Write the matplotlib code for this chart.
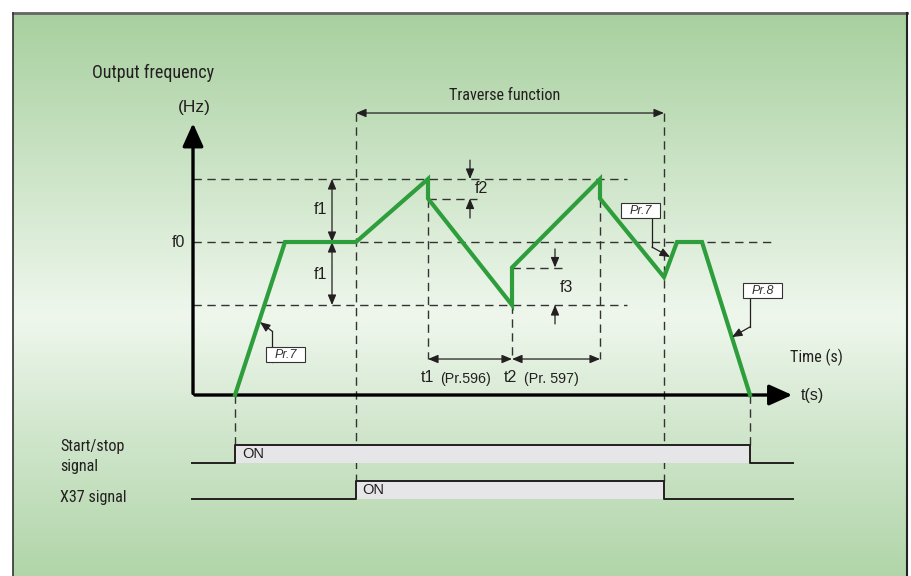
import numpy as np
import matplotlib.pyplot as plt
from matplotlib.colors import LinearSegmentedColormap
from matplotlib.patches import Rectangle

# time axis in s (schematic), frequency in Hz (schematic)
f0 = 51.0
f1 = 21.0
f2 = 6.5
f3 = 12.5
f_dip = 39.3

t_start = 4.2      # start signal on
t_acc_end = 9.2
t_trav_on = 16.3   # X37 on
t_1 = 23.5
t_2 = 31.9
t_3 = 40.7
t_trav_off = 47.1  # X37 off
t_back = 48.4
t_dec = 50.9
t_stop = 55.7
t_axis_end = 60.2

curve_t = [t_start, t_acc_end, t_trav_on, t_1, t_1, t_2, t_2, t_3, t_3,
           t_trav_off, t_back, t_dec, t_stop]
curve_f = [0, f0, f0, f0 + f1, f0 + f1 - f2, f0 - f1, f0 - f1 + f3, f0 + f1,
           f0 + f1 - f2, f_dip, f0, f0, 0]

# signal rows (levels below the frequency axis)
ss_low, ss_high = -22.7, -16.7
x37_low, x37_high = -34.7, -28.7
sig_left, sig_right = -0.1, 60.0

GREEN = '#2e9e3c'
DARK = '#231f20'
NARROW = ['Liberation Sans Narrow', 'Roboto Condensed', 'DejaVu Sans']
ARIAL = ['Liberation Sans', 'DejaVu Sans']

fig = plt.figure(figsize=(9.12, 5.76), dpi=100)
ax = fig.add_axes([0, 0, 1, 1])
ax.set_xlim(-19.3, 71.9)
ax.set_ylim(-60.33, 131.67)
ax.axis('off')

# background panel with vertical gradient
cmap = LinearSegmentedColormap.from_list(
    'bg', [(0, '#b1d5a9'), (0.28, '#d4e8d0'), (0.46, '#eff7ed'), (1.0, '#a8d09f')])
grad = np.linspace(0, 1, 256).reshape(-1, 1)
ax.imshow(grad, cmap=cmap, aspect='auto', origin='lower',
          extent=[-18.0, 71.4, -60.33, 127.33], zorder=0)
ax.plot([-18.0, 71.4], [127.33, 127.33], color='#666666', lw=2, zorder=1)
ax.plot([-18.0, -18.0], [127.33, -60.33], color='#333333', lw=1.2, zorder=1)
ax.plot([71.4, 71.4], [127.33, -60.33], color='#222222', lw=1.5, zorder=1)

dash = dict(color='#333333', lw=1.0, ls=(0, (6, 4)), zorder=2)

# horizontal dashed guides
ax.plot([0, 43.4], [f0 + f1] * 2, **dash)
ax.plot([0, 58.0], [f0] * 2, **dash)
ax.plot([0, 43.4], [f0 - f1] * 2, **dash)
ax.plot([t_1, 28.4], [f0 + f1 - f2] * 2, **dash)
ax.plot([t_2, 37.0], [f0 - f1 + f3] * 2, **dash)

# vertical dashed guides
ax.plot([t_start] * 2, [0, ss_high], **dash)
ax.plot([t_stop] * 2, [0, ss_high], **dash)
ax.plot([t_trav_on] * 2, [94, x37_high], **dash)
ax.plot([t_trav_off] * 2, [94, x37_high], **dash)
for t in (t_1, t_2, t_3):
    lo = f0 - f1 if t == t_2 else f0 + f1 - f2
    ax.plot([t] * 2, [lo, 12.0], **dash)

# axes arrows
head = dict(arrowstyle='-|>,head_length=1.0,head_width=0.45',
            color='black', lw=2.4, mutation_scale=14)
ax.annotate('', xy=(0, 91.5), xytext=(0, -0.4), arrowprops=head, zorder=4)
ax.annotate('', xy=(t_axis_end, 0), xytext=(-0.1, 0), arrowprops=head, zorder=4)

# the frequency curve
ax.plot(curve_t, curve_f, color=GREEN, lw=3.0, solid_joinstyle='miter', zorder=5)

# dimension arrows
dim = dict(arrowstyle='<|-|>,head_length=0.6,head_width=0.25', color=DARK,
           lw=0.9, mutation_scale=10, shrinkA=0, shrinkB=0)
one = dict(arrowstyle='-|>,head_length=0.6,head_width=0.25', color=DARK,
           lw=0.9, mutation_scale=10, shrinkA=0, shrinkB=0)
ax.annotate('', xy=(13.9, f0 + f1), xytext=(13.9, f0), arrowprops=dim, zorder=3)
ax.annotate('', xy=(13.9, f0), xytext=(13.9, f0 - f1), arrowprops=dim, zorder=3)
ax.annotate('', xy=(27.7, f0 + f1), xytext=(27.7, 78.3), arrowprops=one, zorder=3)
ax.annotate('', xy=(27.7, f0 + f1 - f2), xytext=(27.7, 59.0), arrowprops=one, zorder=3)
ax.annotate('', xy=(36.2, f0 - f1 + f3), xytext=(36.2, 48.7), arrowprops=one, zorder=3)
ax.annotate('', xy=(36.2, f0 - f1), xytext=(36.2, 23.7), arrowprops=one, zorder=3)
ax.annotate('', xy=(t_1, 12.0), xytext=(t_2, 12.0), arrowprops=dim, zorder=3)
ax.annotate('', xy=(t_2, 12.0), xytext=(t_3, 12.0), arrowprops=dim, zorder=3)
ax.annotate('', xy=(t_trav_on, 94.0), xytext=(t_trav_off, 94.0), arrowprops=dim, zorder=3)

# parameter callouts: box (left, bottom), leader x, leader bend, arrow tip
def callout(label, left, bottom, lead_x, bend_f, tip):
    w, h = 3.9, 5.0
    ax.add_patch(Rectangle((left, bottom), w, h, fc='white', ec='#333333',
                           lw=0.8, zorder=7))
    ax.text(left + w / 2, bottom + h / 2, label, fontsize=9, style='italic',
            family=ARIAL, ha='center', va='center', zorder=8, color='#333333')
    ax.plot([lead_x, lead_x], [bottom, bend_f], color=DARK, lw=0.9, zorder=6)
    ax.annotate('', xy=tip, xytext=(lead_x, bend_f), arrowprops=one, zorder=6)

callout('Pr.7', 7.3, 11.0, 7.9, 21.3, (6.7, 24.3))
callout('Pr.7', 42.8, 59.0, 45.9, 49.3, (47.7, 46.0))
callout('Pr.8', 55.0, 32.3, 55.7, 22.7, (53.9, 19.3))

# signal rows
ax.fill_between([t_start, t_stop], ss_low, ss_high, color='#e6e6e8', lw=0, zorder=2)
ax.fill_between([t_trav_on, t_trav_off], x37_low, x37_high, color='#e6e6e8', lw=0, zorder=2)
ax.plot([sig_left, t_start, t_start, t_stop, t_stop, sig_right],
        [ss_low, ss_low, ss_high, ss_high, ss_low, ss_low], color=DARK, lw=1.4, zorder=3)
ax.plot([sig_left, t_trav_on, t_trav_on, t_trav_off, t_trav_off, sig_right],
        [x37_low, x37_low, x37_high, x37_high, x37_low, x37_low], color=DARK, lw=1.4, zorder=3)
ax.text(t_start + 0.7, (ss_low + ss_high) / 2, 'ON', fontsize=10.5, family=ARIAL,
        va='center', color=DARK, zorder=4)
ax.text(t_trav_on + 0.6, (x37_low + x37_high) / 2, 'ON', fontsize=10.5, family=ARIAL,
        va='center', color=DARK, zorder=4)

# labels
nt = dict(fontsize=11.6, family=NARROW, fontstretch='condensed', va='center', color=DARK)
at = dict(fontsize=11.5, family=ARIAL, va='center', color=DARK)
ax.text(-10.1, 107.5, 'Output frequency', fontsize=13, family=NARROW,
        fontstretch='condensed', va='center', color=DARK)
ax.text(0.1, 95.7, '(Hz)', ha='center', fontsize=12.5, family=ARIAL,
        va='center', color=DARK)
ax.text(31.2, 100.0, 'Traverse function', ha='center', **nt)
ax.text(-0.8, f0, 'f0', ha='right', **at)
ax.text(12.7, 61.7, 'f1', ha='center', **at)
ax.text(12.7, 40.3, 'f1', ha='center', **at)
ax.text(28.2, 68.7, 'f2', **at)
ax.text(36.7, 36.0, 'f3', **at)
ax.text(22.8, 5.7, 't1', **at)
ax.text(24.7, 5.5, '(Pr.596)', fontsize=10.3, family=ARIAL, va='center', color=DARK)
ax.text(31.1, 5.7, 't2', **at)
ax.text(33.1, 5.5, '(Pr. 597)', fontsize=10.3, family=ARIAL, va='center', color=DARK)
ax.text(59.7, 12.7, 'Time (s)', **nt)
ax.text(60.8, -0.3, 't(s)', **at)
ax.text(-13.3, -17.3, 'Start/stop', **nt)
ax.text(-13.3, -23.7, 'signal', **nt)
ax.text(-13.3, -34.0, 'X37 signal', **nt)

fig.savefig('out.png', dpi=100, facecolor='white')
